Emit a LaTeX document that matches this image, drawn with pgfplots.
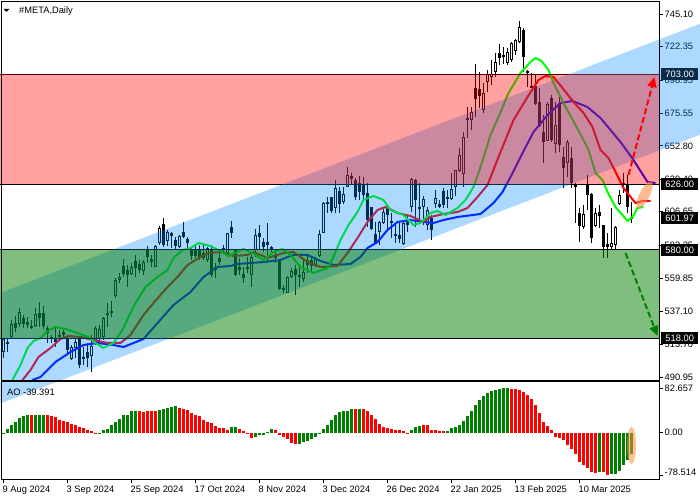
\documentclass[border=0pt]{standalone}
\usepackage{pgfplots}
\usepackage{pgfplotstable}
\usepackage{fontspec}
\setmainfont{Liberation Sans}
\pgfplotsset{compat=1.18}
\usetikzlibrary{arrows.meta}
\definecolor{chblue}{RGB}{0,134,255}
\definecolor{chred}{RGB}{255,0,0}
\definecolor{chgreen}{RGB}{0,125,0}
\definecolor{tagnavy}{RGB}{10,42,74}
\definecolor{aogreen}{RGB}{0,128,0}
\definecolor{aored}{RGB}{255,0,0}
\definecolor{orng}{RGB}{255,140,70}
\newcommand{\chfont}{\fontsize{9.3}{11}\selectfont}
\pgfplotstableread{
k h l t b
0 517.6 504.3 517.6 508.5
2 530.9 518.3 528.1 519.0
4 539.3 526.0 536.5 528.1
8 539.3 526.0 535.1 526.7
17 513.4 502.9 512.0 503.6
18 518.3 504.3 515.5 511.3
22 520.4 494.5 512.7 505.7
23 526.7 513.4 525.3 514.8
24 527.4 513.4 524.6 517.6
25 533.0 516.9 532.3 519.0
28 560.3 546.3 558.9 547.7
29 563.8 556.8 561.0 558.9
32 570.8 562.4 568.0 563.1
35 572.9 562.4 571.5 565.2
38 583.4 568.0 582.7 568.0
39 596.7 583.4 595.3 584.8
41 593.9 582.7 592.5 586.2
44 590.4 581.3 589.7 582.0
51 582.0 571.5 581.3 572.9
56 591.8 577.1 591.8 577.8
62 576.4 554.0 575.0 562.4
63 594.6 575.0 590.4 579.9
71 561.7 549.8 561.0 549.8
72 567.3 560.3 565.2 561.0
75 572.9 557.5 564.5 559.6
78 575.0 568.0 574.3 568.7
79 593.9 575.0 591.1 575.7
80 613.5 591.8 612.8 591.8
81 617.0 605.8 613.5 612.1
83 628.9 605.8 623.3 609.3
85 624.0 612.1 619.1 613.5
86 638.0 624.0 632.4 624.0
94 600.2 583.4 599.5 592.5
95 610.0 598.1 606.5 598.8
100 600.9 583.4 598.8 584.1
102 630.3 606.5 629.6 610.0
105 617.7 597.4 615.6 610.0
106 610.0 593.9 607.9 597.4
108 621.9 609.3 616.3 612.1
112 633.8 614.9 622.6 615.6
113 635.9 617.7 635.9 624.0
114 651.3 634.5 646.4 635.2
115 662.5 624.0 659.0 633.1
116 680.0 658.3 672.3 670.9
117 680.0 663.9 676.5 670.9
120 696.8 675.8 689.8 677.9
121 705.9 690.5 703.1 697.5
122 712.9 695.4 703.1 701.0
123 717.8 701.0 711.5 704.5
126 721.3 709.4 718.5 710.8
127 725.5 711.5 724.8 712.9
128 727.6 716.4 726.9 719.2
129 740.2 724.8 736.0 725.5
136 683.5 656.2 682.1 656.2
138 683.5 647.8 667.4 654.1
141 656.9 631.0 655.5 640.8
145 611.4 594.6 605.1 596.0
148 609.3 596.0 605.8 596.7
152 609.3 579.9 584.8 582.0
153 596.7 579.9 596.0 583.4
154 621.9 611.4 618.4 612.1
157 613.5 598.8 603.0 601.6
}\upT
\pgfplotstableread{
k h l t b
1 518.3 508.5 515.5 514.1
3 533.7 522.5 528.8 525.3
5 534.4 525.3 532.3 528.1
6 533.0 525.3 529.5 527.4
7 530.9 524.6 526.7 525.3
9 543.5 526.0 535.8 532.3
10 540.7 524.6 535.8 526.7
11 526.7 514.8 525.3 521.8
12 520.4 514.8 519.0 517.6
13 525.3 512.0 517.6 515.5
14 523.9 516.9 520.4 519.0
15 523.9 518.3 522.5 520.4
16 519.0 507.8 518.3 509.9
19 519.0 497.3 518.3 499.4
20 512.0 499.4 505.0 503.6
21 514.8 498.0 508.5 504.3
26 542.8 526.0 535.8 534.4
27 544.2 533.0 537.2 535.8
30 573.6 561.0 568.7 563.1
31 569.4 554.0 565.9 562.4
33 576.4 561.0 572.2 567.3
34 572.9 563.8 570.1 565.9
36 582.7 570.8 579.9 575.0
37 576.4 568.0 573.6 571.5
40 602.3 582.0 598.1 583.4
42 592.5 581.3 591.8 589.7
43 589.0 580.6 586.9 582.7
45 599.5 588.3 592.5 589.0
46 589.0 581.3 587.6 584.8
47 582.0 572.9 579.9 575.7
48 583.4 574.3 580.6 575.7
49 583.4 572.9 579.9 575.0
50 583.4 572.9 577.8 574.3
52 583.4 561.0 580.6 562.4
53 570.8 560.3 568.0 565.9
54 579.9 569.4 574.3 571.5
55 583.4 577.1 581.3 579.9
57 600.2 588.3 596.0 591.8
58 579.9 561.7 579.9 562.4
59 574.3 562.4 568.0 565.9
60 568.0 556.8 563.1 560.3
61 575.0 563.8 568.0 566.6
64 597.4 579.9 591.8 589.0
65 588.3 578.5 585.5 582.0
66 598.8 570.8 585.5 583.4
67 582.7 578.5 582.0 579.9
68 579.9 570.8 576.4 574.3
69 572.9 551.9 572.9 552.6
70 555.4 549.8 553.3 551.9
73 569.4 548.4 566.6 562.4
74 568.0 554.0 562.4 561.0
76 576.4 563.8 572.9 569.4
77 574.3 563.8 572.9 568.7
82 617.0 605.8 617.0 607.2
84 624.0 605.8 621.2 612.1
87 633.8 625.4 631.7 629.6
88 630.3 614.9 628.9 617.0
89 631.7 614.9 626.8 620.5
90 631.0 614.9 625.4 618.4
91 626.8 596.0 619.8 600.9
92 610.0 593.9 610.0 594.6
93 599.5 584.1 591.1 584.1
96 611.4 593.9 609.3 604.4
97 605.8 588.3 600.2 598.8
98 597.4 584.8 591.1 589.7
99 598.8 584.8 590.4 587.6
101 604.4 592.5 599.5 597.4
103 629.6 596.0 628.9 614.9
104 626.8 600.9 610.0 608.6
107 604.4 586.9 602.3 593.9
109 614.9 609.3 612.1 610.0
110 623.3 609.3 621.2 611.4
111 621.9 609.3 617.0 615.6
118 710.1 673.0 693.3 685.6
119 704.5 679.3 692.6 687.7
124 724.1 709.4 717.8 714.3
125 722.0 710.1 716.4 715.0
130 735.3 704.5 733.9 715.0
131 705.9 694.0 705.2 703.8
132 703.8 693.3 694.7 693.3
133 702.4 681.4 694.7 682.1
134 693.3 666.0 683.5 666.7
135 674.4 640.8 662.5 655.5
137 688.4 655.5 686.3 656.9
139 688.4 648.5 682.8 653.4
140 652.0 623.3 645.0 637.3
142 652.0 623.3 644.3 626.8
143 626.8 598.8 625.4 624.0
144 609.3 585.5 605.8 596.7
146 632.4 607.9 625.4 618.4
147 619.8 584.8 619.1 588.3
149 611.4 595.3 606.5 603.7
150 597.4 574.3 597.4 582.0
151 591.8 574.3 584.1 582.0
155 633.8 619.8 626.8 625.4
156 632.4 605.8 625.4 610.0
}\downT
\begin{document}
\begin{tikzpicture}[x=1pt,y=1pt]
\useasboundingbox (0,0) rectangle (700,500);
\begin{axis}[
  at={(2pt,119pt)}, anchor=south west,
  width=657pt, height=379pt, scale only axis,
  xmin=-0.375, xmax=163.875, ymin=488.2, ymax=753.5,
  clip=false,
  axis line style={black,line width=1pt},
  xtick=\empty,
  ytick={745.10,722.35,698.95,675.55,652.80,629.40,606.65,583.25,559.85,537.10,513.70,490.95},
  yticklabels={745.10,722.35,698.95,675.55,652.80,629.40,606.65,583.25,559.85,537.10,513.70,490.95},
  ytick pos=right, yticklabel pos=right,
  tick align=outside, major tick length=4pt,
  tick style={black,line width=0.8pt},
  yticklabel style={anchor=west,inner sep=0pt,font=\chfont,xshift=1.5pt},
]
% candles
\addplot[forget plot,draw=none,mark=none,error bars/.cd,y dir=plus,y explicit,error mark=none,error bar style={draw=black,line width=1pt}] table[x=k,y=l,y error plus expr=\thisrow{h}-\thisrow{l}] {\upT};
\addplot[forget plot,draw=none,mark=none,error bars/.cd,y dir=plus,y explicit,error mark=none,error bar style={draw=black,line width=1pt}] table[x=k,y=l,y error plus expr=\thisrow{h}-\thisrow{l}] {\downT};
\addplot[forget plot,draw=none,mark=none,error bars/.cd,y dir=plus,y explicit,error mark=none,error bar style={draw=black,line width=3pt}] table[x=k,y=b,y error plus expr=\thisrow{t}-\thisrow{b}] {\upT};
\addplot[forget plot,draw=none,mark=none,error bars/.cd,y dir=plus,y explicit,error mark=none,error bar style={draw=black,line width=3pt}] table[x=k,y=b,y error plus expr=\thisrow{t}-\thisrow{b}] {\downT};
\addplot[forget plot,draw=none,mark=none,error bars/.cd,y dir=plus,y explicit,error mark=none,error bar style={draw=white,line width=1.2pt}] table[x=k,y expr=\thisrow{b}+0.7,y error plus expr=\thisrow{t}-\thisrow{b}-1.4] {\upT};
% moving averages
\addplot[forget plot,color=blue,line width=2pt] coordinates {(7.25,488.9)(9.25,491.0)(13,501.5)(16.75,508.5)(20,513.4)(23.5,514.8)(27.5,513.4)(30,512.0)(35,517.6)(38.5,528.8)(42.5,541.4)(46.75,550.5)(50,561.0)(53.5,568.0)(56.75,568.7)(58.5,570.1)(61.75,570.8)(65,571.5)(69.25,572.9)(72.25,576.4)(76,576.4)(79.25,572.2)(82.5,569.4)(86.75,570.1)(89.25,575.0)(91,581.3)(93.5,585.5)(96,593.9)(98.5,599.5)(101.75,600.9)(105,599.5)(107.5,598.8)(110,600.9)(113.5,603.0)(119.25,605.1)(122.5,612.8)(124.75,620.5)(126.75,631.0)(129.25,645.0)(132.5,662.5)(136,674.4)(139.25,682.8)(142.25,684.2)(146,680.0)(149.25,672.3)(151.75,663.9)(154.25,655.5)(157.5,642.9)(161,627.5)(163,626.8)};
\addplot[forget plot,color=red,line width=2pt] coordinates {(4.75,488.9)(6.75,495.9)(8.75,505.0)(11.75,511.3)(14.25,517.6)(16.25,519.7)(19.25,519.0)(22.5,516.9)(26,514.8)(29.25,514.8)(31.75,520.4)(35,534.4)(37.5,542.8)(41,554.0)(43.5,561.0)(46,569.4)(49.25,575.0)(51.25,577.8)(54.75,578.5)(57.5,575.7)(61,576.4)(62.5,578.5)(66,574.3)(70,577.8)(72.5,578.5)(76,571.5)(79.25,568.0)(83.5,568.7)(86,577.8)(88.5,588.3)(91,599.5)(93.5,607.9)(95.5,610.0)(98.5,605.8)(101.75,603.7)(105,599.5)(106.75,603.0)(110,605.1)(113.5,606.5)(116,609.3)(118.5,617.0)(121,625.4)(123.75,645.0)(127.5,670.9)(131,687.0)(133.75,698.9)(135.5,701.7)(137.5,701.0)(139.75,693.3)(142.5,683.5)(145,675.8)(147.25,666.0)(149.25,649.9)(151.25,644.3)(153,634.5)(155,623.3)(158,612.8)(159.75,614.2)(161.75,614.2)};
\addplot[forget plot,color=green,line width=2pt] coordinates {(2.25,488.9)(4.25,499.4)(6,511.3)(7.5,516.2)(9.25,518.3)(11,523.2)(13,526.0)(15.5,524.6)(18.5,521.8)(21.25,519.0)(23,514.8)(25,511.3)(27.5,514.8)(29.75,523.9)(31.25,533.0)(33,542.8)(35.5,554.0)(38.5,561.0)(41,565.9)(42.5,574.3)(44.75,579.9)(46.75,581.3)(48.75,584.8)(51.75,582.7)(54.25,579.2)(56.25,575.7)(60,580.6)(62.25,577.8)(65,572.9)(67.5,578.5)(69.75,580.6)(71.75,576.4)(74.25,568.0)(77.5,563.8)(81,567.3)(82.5,575.0)(84.25,586.9)(86.25,597.4)(88.5,606.5)(90,614.9)(92.5,617.7)(95,614.9)(96.75,607.9)(100,604.4)(102.5,597.4)(104.25,598.8)(106.75,605.8)(108.5,607.2)(110.5,604.4)(113.5,609.3)(115.5,614.9)(117.5,624.0)(119.25,638.0)(121.75,660.4)(123.75,673.0)(126.25,689.8)(129.25,703.8)(131.75,711.5)(133,714.3)(134.5,712.2)(136.25,705.9)(137.5,696.8)(140.5,680.0)(143,667.4)(145,656.9)(146.25,649.9)(148,633.8)(149.75,628.9)(151,620.5)(153,610.0)(156,600.2)(157.25,603.0)(158.5,609.3)(160,610.0)};
% level lines
\addplot[forget plot,black,line width=1pt] coordinates {(-0.75,703)(163.875,703)};
\addplot[forget plot,black,line width=1pt] coordinates {(-0.75,626)(163.875,626)};
\addplot[forget plot,black,line width=1pt] coordinates {(-0.75,580)(163.875,580)};
\addplot[forget plot,black,line width=1pt] coordinates {(-0.75,518)(163.875,518)};
% translucent zones
\addplot[forget plot,fill=chblue,draw=none,fill opacity=0.32] coordinates {(-0.75,549.9)(174.25,738.4)(174.25,660.7)(-0.75,472.5)};
\addplot[forget plot,fill=chred,draw=none,fill opacity=0.37] coordinates {(-0.75,703)(163.875,703)(163.875,626)(-0.75,626)};
\addplot[forget plot,fill=chgreen,draw=none,fill opacity=0.5] coordinates {(-0.75,580)(163.875,580)(163.875,518)(-0.75,518)};
% arrows
\addplot[forget plot,color=red,line width=2pt,dash pattern=on 6pt off 3pt,-{Triangle[length=10pt,width=9pt]}] coordinates {(156.25,632.4)(162.75,701)};
\addplot[forget plot,color=aogreen,line width=2pt,dash pattern=on 6pt off 3pt,-{Triangle[length=10pt,width=9pt]}] coordinates {(155.5,577.8)(163.5,519.7)};
% forecast ellipse
\fill[orng,opacity=0.6] (axis cs:160.25,618.4) ellipse [x radius=5pt,y radius=15pt,rotate=-27];
% frame
\draw[black,line width=1pt] (rel axis cs:0,0) rectangle (rel axis cs:1,1);
% price tags
\node[fill=tagnavy,text=white,inner sep=0pt,minimum width=37pt,minimum height=12pt,anchor=west,font=\chfont] at (axis cs:164.375,703) {703.00};
\node[fill=black,text=white,inner sep=0pt,minimum width=37pt,minimum height=12pt,anchor=west,font=\chfont] at (axis cs:164.375,626) {626.00};
\node[fill=black,text=white,inner sep=0pt,minimum width=37pt,minimum height=12pt,anchor=west,font=\chfont] at (axis cs:164.375,601.97) {601.97};
\node[fill=black,text=white,inner sep=0pt,minimum width=37pt,minimum height=12pt,anchor=west,font=\chfont] at (axis cs:164.375,580) {580.00};
\node[fill=black,text=white,inner sep=0pt,minimum width=37pt,minimum height=12pt,anchor=west,font=\chfont] at (axis cs:164.375,518) {518.00};
\end{axis}
\begin{axis}[
  at={(2pt,21pt)}, anchor=south west,
  width=657pt, height=97pt, scale only axis,
  xmin=-0.375, xmax=163.875, ymin=-85.7, ymax=93.8,
  clip=false,
  axis line style={black,line width=1pt},
  xtick={0,16,...,144},
  xticklabels={9 Aug 2024,3 Sep 2024,25 Sep 2024,17 Oct 2024,8 Nov 2024,3 Dec 2024,26 Dec 2024,22 Jan 2025,13 Feb 2025,10 Mar 2025},
  xtick pos=bottom, xticklabel pos=bottom,
  ytick={82.657,0,-78.514},
  yticklabels={\raisebox{-4pt}{82.657},0.00,\raisebox{6pt}{-78.514}},
  ytick pos=right, yticklabel pos=right,
  tick align=outside, major tick length=4pt,
  tick style={black,line width=0.8pt},
  yticklabel style={anchor=west,inner sep=0pt,font=\chfont,xshift=1.5pt},
  xticklabel style={anchor=north west,inner sep=0pt,font=\chfont,xshift=-1pt,yshift=-3pt},
]
\addplot[forget plot,ycomb,color=aogreen,line width=3pt,mark=none] coordinates {(0,-2.5)(1,7.4)(2,14.8)(3,20.4)(4,26.5)(5,30.2)(6,32.1)(8,32.1)(9,32.1)(10,33.3)(24,-1.0)(25,4.3)(26,7.4)(27,13.6)(28,19.1)(29,25.3)(30,32.1)(31,33.3)(32,39.5)(33,39.5)(39,41.3)(40,44.4)(41,45.7)(42,46.9)(43,48.7)(57,9.9)(58,9.9)(63,-8.6)(64,-4.9)(65,-3.7)(66,1.9)(67,6.2)(74,-21.6)(75,-17.3)(76,-15.4)(77,-12.3)(78,-8.6)(79,-3.1)(80,6.2)(81,13.6)(82,23.4)(83,32.1)(84,38.3)(85,39.5)(86,40.7)(87,43.2)(89,43.2)(102,4.3)(103,9.9)(104,11.7)(111,2.5)(112,8.0)(113,9.9)(114,13.6)(115,21.6)(116,30.9)(117,40.7)(118,50.6)(119,61.1)(120,67.3)(121,72.8)(122,76.5)(123,79.0)(124,80.8)(125,82.1)(126,82.657)(149,-72.8)(152,-76.5)(153,-76.5)(154,-71.6)(155,-60.5)(156,-50.6)(157,-39.391)};
\addplot[forget plot,ycomb,color=aored,line width=3pt,mark=none] coordinates {(7,32.1)(11,32.1)(12,30.9)(13,28.4)(14,22.8)(15,21.6)(16,19.1)(17,16.7)(18,13.6)(19,10.5)(20,8.6)(21,4.3)(22,3.1)(23,-0.8)(34,39.5)(35,38.3)(36,39.5)(37,39.5)(38,39.5)(44,46.3)(45,43.2)(46,41.3)(47,36.4)(48,33.3)(49,30.9)(50,24.1)(51,19.1)(52,17.9)(53,11.7)(54,8.0)(55,8.0)(56,5.6)(59,6.8)(60,2.5)(61,-2.5)(62,-9.9)(68,4.3)(69,-3.7)(70,-8.0)(71,-12.3)(72,-19.7)(73,-21.6)(88,43.2)(90,43.2)(91,39.5)(92,32.1)(93,24.7)(94,16.7)(95,9.9)(96,8.6)(97,6.2)(98,4.3)(99,4.3)(100,3.1)(101,-1.2)(105,14.2)(106,14.2)(107,5.6)(108,4.3)(109,3.1)(110,2.5)(127,80.2)(128,80.2)(129,79.0)(130,75.3)(131,69.1)(132,61.7)(133,50.6)(134,36.4)(135,19.7)(136,12.3)(137,4.3)(138,-8.0)(139,-9.3)(140,-14.2)(141,-23.4)(142,-30.9)(143,-39.5)(144,-54.3)(145,-59.2)(146,-65.4)(147,-72.8)(148,-74.7)(150,-72.8)(151,-78.514)};
\fill[orng,opacity=0.55] (axis cs:157,-23.5) ellipse [x radius=4.5pt,y radius=18.5pt];
\end{axis}
\fill[black] (3.5,491) -- (9.5,491) -- (6.5,488) -- cycle;
\node[anchor=west,inner sep=0pt,font=\chfont] at (19,489) {\#META,Daily};
\node[anchor=west,inner sep=0pt,font=\chfont] at (7,108) {AO -39.391};
\end{tikzpicture}
\end{document}
